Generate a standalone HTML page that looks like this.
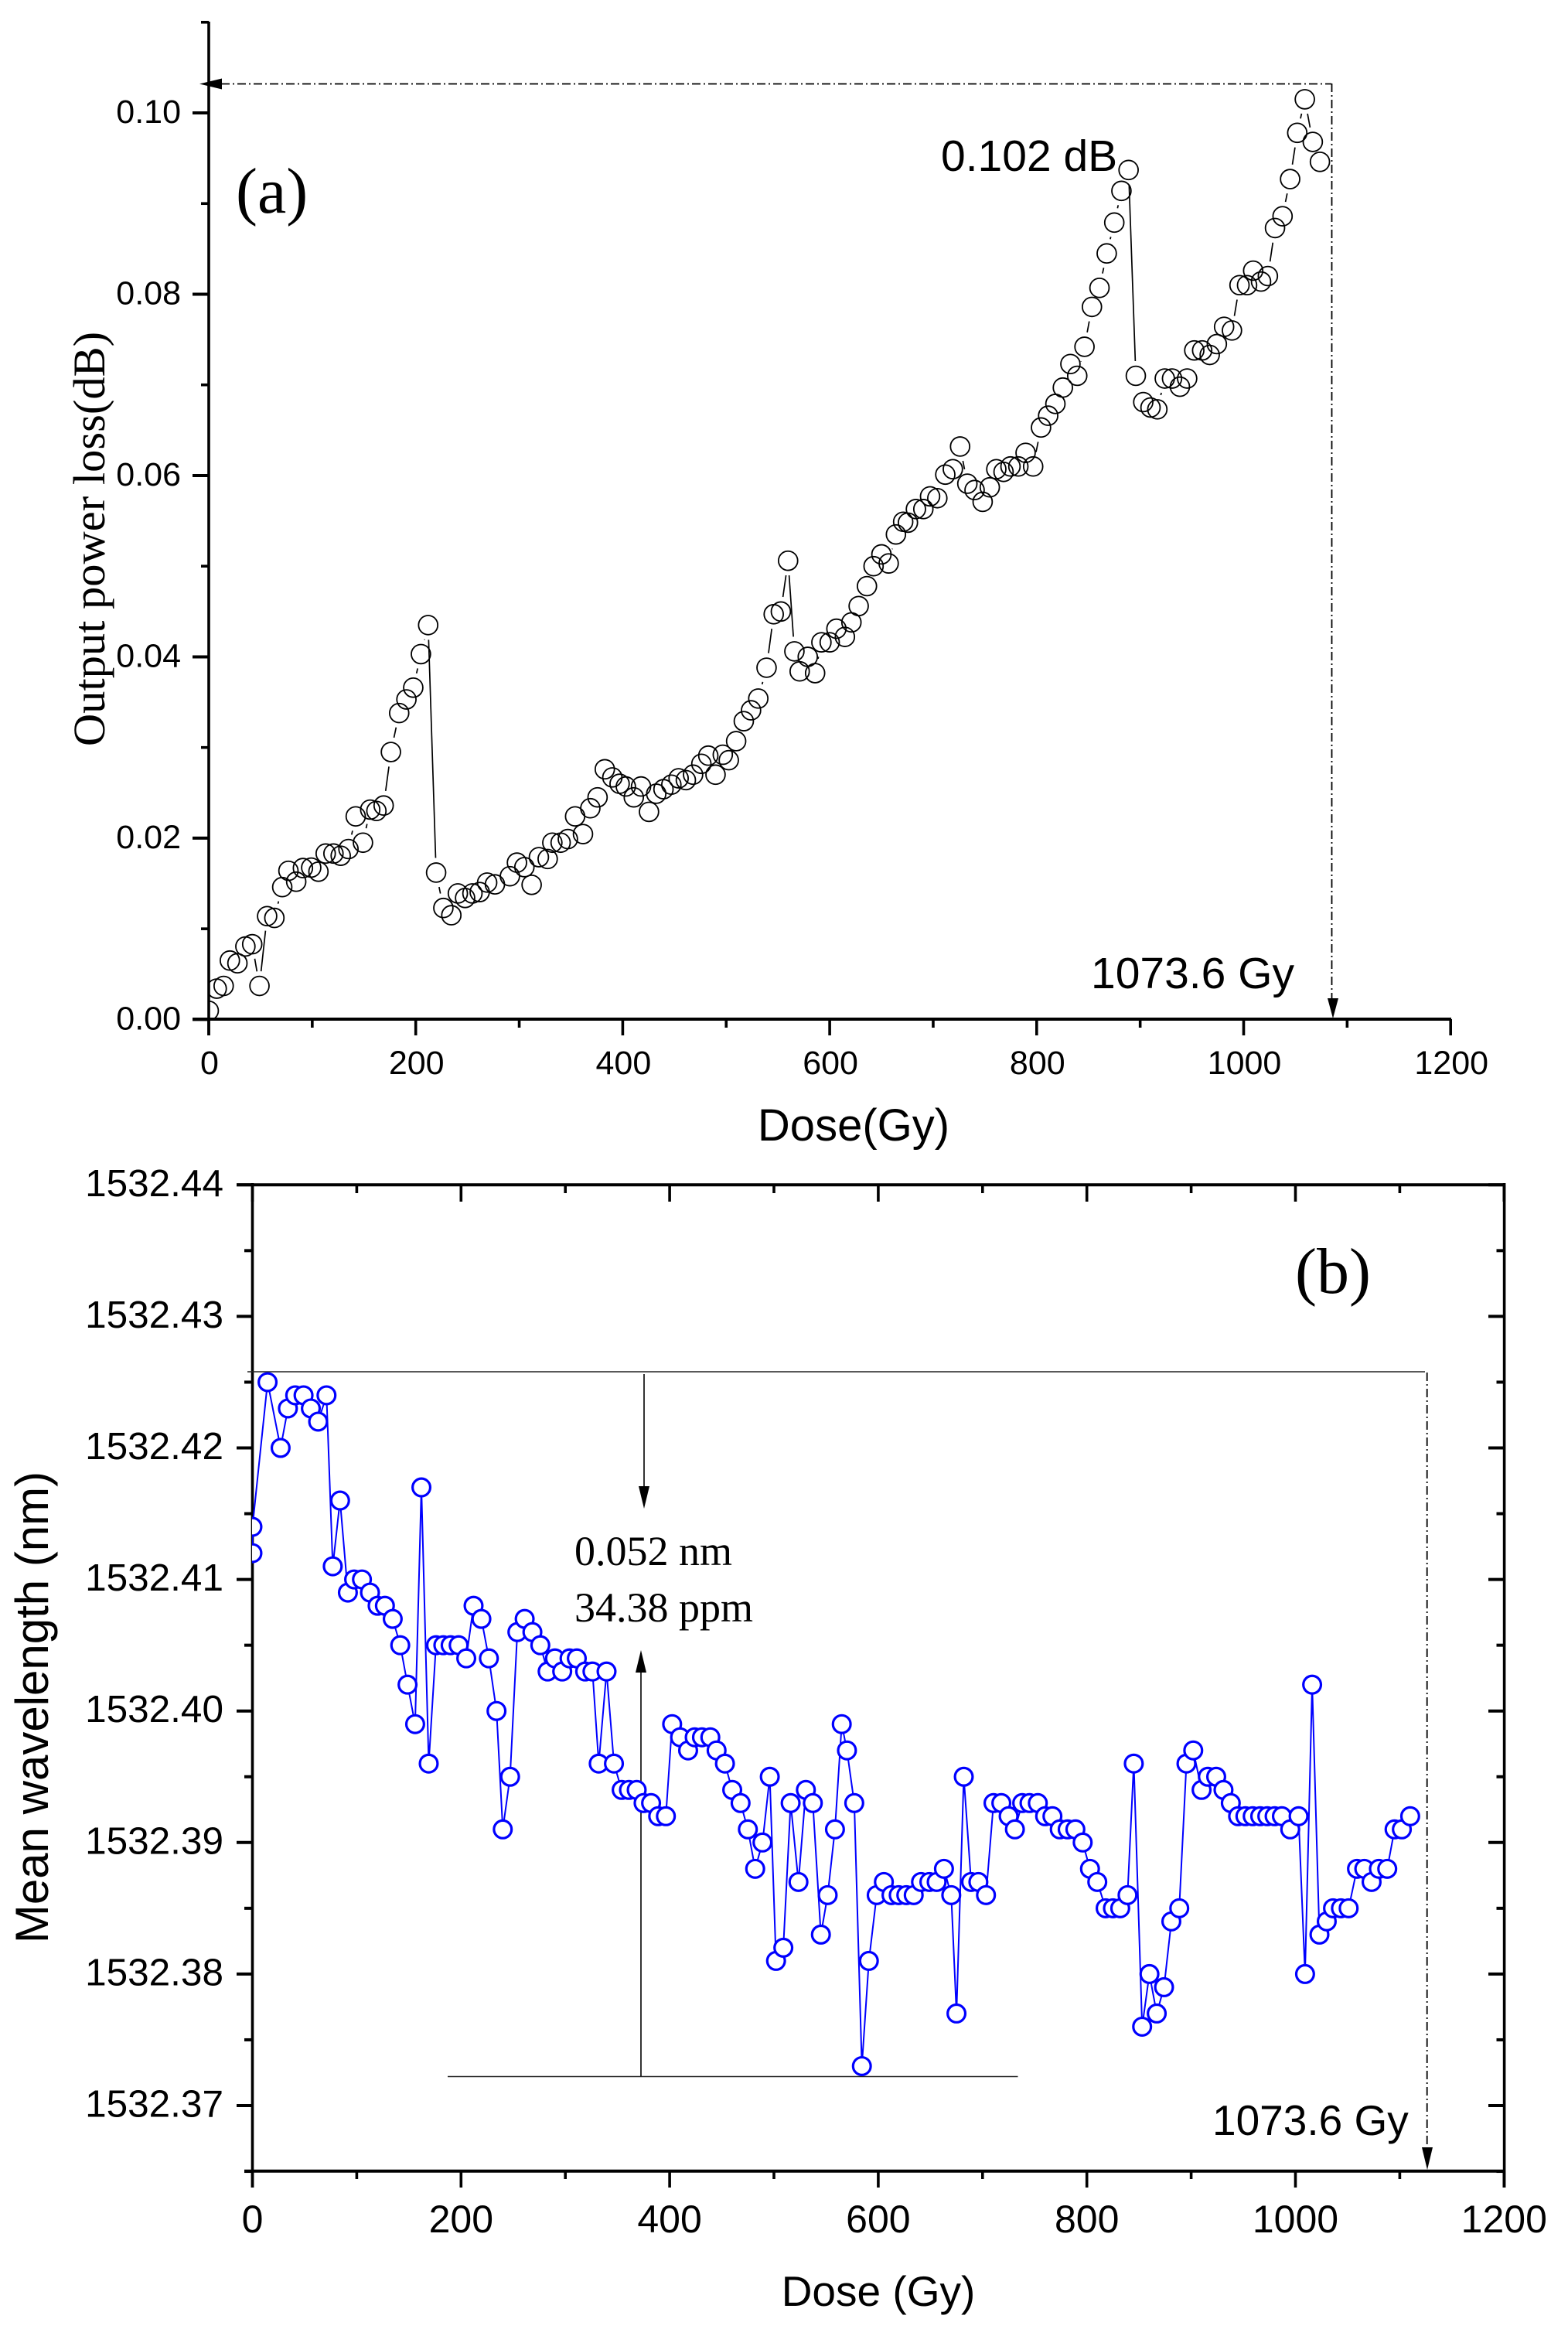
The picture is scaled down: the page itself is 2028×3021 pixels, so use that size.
<!DOCTYPE html>
<html lang="en">
<head>
<meta charset="utf-8">
<title>Output power loss and mean wavelength versus dose</title>
<style>
html,body{margin:0;padding:0;background:#fff;}
svg{display:block;}
.sans{font-family:"Liberation Sans",sans-serif;fill:#000;}
.serif{font-family:"Liberation Serif",serif;fill:#000;}
</style>
</head>
<body>
<svg id="figure" xmlns="http://www.w3.org/2000/svg" width="2028" height="3021" viewBox="0 0 2028 3021">
  <rect x="0" y="0" width="2028" height="3021" fill="#fff"/>
  <defs>
    <clipPath id="clip-a"><rect x="270" y="29" width="1607" height="1289"/></clipPath>
    <clipPath id="clip-b"><rect x="326" y="1532" width="1620" height="1276"/></clipPath>
  </defs>
  <g id="panel-a">
    <g id="a-axes"></g>
    <g id="a-series" clip-path="url(#clip-a)"></g>
    <text class="serif" x="305" y="275" font-size="84">(a)</text>
    <text class="serif" font-size="58.5" text-anchor="middle" transform="translate(135 697) rotate(-90)">Output power loss(dB)</text>
    <text class="sans" font-size="58" text-anchor="middle" x="1104" y="1475">Dose(Gy)</text>
    <text class="sans" font-size="57" x="1217" y="221">0.102 dB</text>
    <text class="sans" font-size="57" x="1411" y="1278">1073.6 Gy</text>
    <path d="M286 108.5H1722" fill="none" stroke="#000" stroke-width="1.8" stroke-dasharray="11 4 2 4"/>
    <polygon points="258,108.5 287,101.5 287,115.5" fill="#000"/>
    <path d="M1722.5 108V1291" fill="none" stroke="#000" stroke-width="1.8" stroke-dasharray="11 4 2 4"/>
    <polygon points="1724,1317 1717,1291 1731,1291" fill="#000"/>
  </g>
  <g id="panel-b">
    <g id="b-axes"></g>
    <path d="M320 1774H1843" fill="none" stroke="#222" stroke-width="1.6"/>
    <path d="M579 2685.5H1316.5" fill="none" stroke="#222" stroke-width="1.6"/>
    <path d="M833 1777V1925" fill="none" stroke="#000" stroke-width="1.6"/>
    <polygon points="833,1951 826,1922 840,1922" fill="#000"/>
    <path d="M829 2160V2685" fill="none" stroke="#000" stroke-width="1.6"/>
    <polygon points="829,2134 822,2163 836,2163" fill="#000"/>
    <path d="M1845.7 1775V2778" fill="none" stroke="#000" stroke-width="1.8" stroke-dasharray="11 4 2 4"/>
    <polygon points="1846,2806 1839,2777 1853,2777" fill="#000"/>
    <g id="b-series" clip-path="url(#clip-b)"></g>
    <text class="serif" x="1675" y="1672" font-size="84">(b)</text>
    <text class="serif" font-size="54" x="743" y="2024">0.052 nm</text>
    <text class="serif" font-size="54" x="743" y="2097">34.38 ppm</text>
    <text class="sans" font-size="55" x="1568" y="2761">1073.6 Gy</text>
    <text class="sans" font-size="60" text-anchor="middle" transform="translate(62 2208) rotate(-90)">Mean wavelength (nm)</text>
    <text class="sans" font-size="55" text-anchor="middle" x="1136" y="2982">Dose (Gy)</text>
  </g>
</svg>
<script>
const aDose = [0,7.7,14.4,20.4,27.7,35.4,42,49,56.4,63.4,71,77,84.5,91,99,106,113,120.5,127.5,135,142,149,156,162,169,176,184,191,197.6,205,212,219.7,226.7,234.4,240.7,247.7,254.8,261.8,269,276.5,291,297.8,305,312,319,
327.5,332,340,347,354,361.6,368.7,375.7,382.7,390,397,403,410.7,417.7,425.4,432.4,439.4,447,454,461,468,476,482.7,489.7,496.7,502.5,509.6,517,524,531,539,545.9,552.8,559.8,565.9,571,578.8,585.9,592,600,606.5,614.7,621,628,636,642.4,650,657,664,671,675.6,683.3,690.5,697,704,711.7,719,726,733,740,747.8,754.7,761,768,
774.7,782.3,789.3,796.6,804.2,811.1,818.1,825.3,832.6,839.2,846.2,853.4,860.7,867.7,875,881.9,888.8,895.8,903,910,916.6,923.8,930.8,938.4,945.4,952.3,959.9,967.2,974.1,981.1,988.7,996,1003.3,1009.2,1016.8,1023.4,1030.3,1037.6,1044.9,1051.8,1059.1,1066.8,1073.7];
const aLoss = [0.00096,0.0034,0.0037,0.0065,0.0062,0.00805,0.0083,0.0037,0.0114,0.0112,0.0146,0.0164,0.0152,0.0167,0.01675,0.0163,0.0183,0.0183,0.01806,0.0188,0.0224,0.0195,0.02315,0.023,0.0236,0.0295,0.0338,0.0353,0.0366,0.0403,0.0435,0.0162,0.0123,0.0115,0.0139,0.0134,0.0139,0.01405,0.0151,0.0149,0.0158,0.0173,0.0168,0.01485,0.0179,
0.0177,0.0195,0.0195,0.0199,0.0224,0.02045,0.0233,0.0245,0.0276,0.0267,0.026,0.0257,0.0245,0.0257,0.0229,0.0249,0.0254,0.0259,0.0266,0.0264,0.027,0.0282,0.0291,0.027,0.0292,0.0286,0.0307,0.0329,0.0341,0.0354,0.0388,0.0447,0.045,0.0506,0.0406,0.0384,0.04,0.0382,0.0416,0.0416,0.0431,0.0422,0.0438,0.0456,0.0478,0.05,0.0513,0.0503,0.0535,0.0549,0.0548,0.0563,0.0563,0.0577,0.0575,0.0601,0.0607,0.0632,0.0591,0.0584,0.0571,0.0587,0.0607,0.0604,
0.061,0.061,0.0625,0.061,0.0653,0.0666,0.0679,0.0697,0.0723,0.071,0.0742,0.0786,0.0807,0.0845,0.0879,0.0914,0.0937,0.071,0.0681,0.0675,0.0673,0.0707,0.0707,0.0698,0.0707,0.0738,0.0738,0.0733,0.0745,0.0764,0.076,0.081,0.081,0.0826,0.0814,0.082,0.0873,0.0886,0.0927,0.0978,0.1015,0.0968,0.0946];
const bDose = [0,0,14.5,27,34,41,49,56,63,71,77,84,91.5,97.5,105,112.7,120,127,134.5,141.7,148.7,156,162,169,176,183,190,197.7,205,212,219.5,226.7,234,240,247,254,261,268.4,276,283,290,297,304,311,319,326,332,339.5,346.6,354,361,368.4,375,382.2,389,396.4,402.4,410,417.7,424,431,439,
445,453,460,468,475,482,489,496,502,509,516,523.5,530.6,537.3,545,551.5,558.5,565,570,577,584.3,591,598.5,605.4,612.7,619.6,626.9,634,641,649,656,663,670,675,682,689,696,703.3,710.5,718,725,731,738,745,753,760,767,774,781.6,789,796,803,810,818,825,832,839,845,853,860,867,874,881,888.6,895.5,902,910,916,924,931,938,945,952,959,966.2,973,980,987,995,1003,1009.2,1016,1023,1030,1036,1043.6,1051,1059,1066,1073,1080,1088,1095,1102,1110];
const bWavelength = [1532.412,1532.414,1532.425,1532.420,1532.423,1532.424,1532.424,1532.423,1532.422,1532.424,1532.411,1532.416,1532.409,1532.410,1532.410,1532.409,1532.408,1532.408,1532.407,1532.405,1532.402,1532.399,1532.417,1532.396,1532.405,1532.405,1532.405,1532.405,1532.404,1532.408,1532.407,1532.404,1532.400,1532.391,1532.395,1532.406,1532.407,1532.406,1532.405,1532.403,1532.404,1532.403,1532.404,1532.404,1532.403,1532.403,1532.396,1532.403,1532.396,1532.394,1532.394,1532.394,1532.393,1532.393,1532.392,1532.392,1532.399,1532.398,1532.397,1532.398,1532.398,1532.398,
1532.397,1532.396,1532.394,1532.393,1532.391,1532.388,1532.390,1532.395,1532.381,1532.382,1532.393,1532.387,1532.394,1532.393,1532.383,1532.386,1532.391,1532.399,1532.397,1532.393,1532.373,1532.381,1532.386,1532.387,1532.386,1532.386,1532.386,1532.386,1532.387,1532.387,1532.387,1532.388,1532.386,1532.377,1532.395,1532.387,1532.387,1532.386,1532.393,1532.393,1532.392,1532.391,1532.393,1532.393,1532.393,1532.392,1532.392,1532.391,1532.391,1532.391,1532.390,1532.388,1532.387,1532.385,1532.385,1532.385,1532.386,1532.396,1532.376,1532.380,1532.377,1532.379,1532.384,1532.385,1532.396,1532.397,1532.394,1532.395,1532.395,1532.394,1532.393,1532.392,1532.392,1532.392,1532.392,1532.392,1532.392,1532.392,1532.391,1532.392,1532.380,1532.402,1532.383,1532.384,1532.385,1532.385,1532.385,1532.388,1532.388,1532.387,1532.388,1532.388,1532.391,1532.391,1532.392];

const aXMajor = [0,200,400,600,800,1000,1200];
const aXMinor = [100,300,500,700,900,1100];
const aYMajor = [0,0.02,0.04,0.06,0.08,0.10];
const aYMinor = [0.01,0.03,0.05,0.07,0.09,0.11];
const aYLabels = ['0.00','0.02','0.04','0.06','0.08','0.10'];
const bXMajor = [0,200,400,600,800,1000,1200];
const bXMinor = [100,300,500,700,900,1100];
const bYMajor = [1532.37,1532.38,1532.39,1532.40,1532.41,1532.42,1532.43,1532.44];
const bYMinor = [1532.365,1532.375,1532.385,1532.395,1532.405,1532.415,1532.425,1532.435];
const bYLabels = ['1532.37','1532.38','1532.39','1532.40','1532.41','1532.42','1532.43','1532.44'];

const NS = 'http://www.w3.org/2000/svg';
const xA = d => 270 + 1.3385 * d;
const yA = v => 1318.4 - 11724 * v;
const xB = d => 326.5 + 1.349 * d;
const yB = v => 2723 - 17010 * (v - 1532.37);

function make(tag, parent, attrs) {
  const el = document.createElementNS(NS, tag);
  for (const k in attrs) el.setAttribute(k, attrs[k]);
  parent.appendChild(el);
  return el;
}
function axisLine(parent, name, x1, y1, x2, y2, w) {
  const el = make('line', parent, {x1: x1, y1: y1, x2: x2, y2: y2, stroke: '#000', 'stroke-width': w});
  
  
}
function tickLabel(parent, name, x, y, size, anchor, str) {
  const el = make('text', parent, {x: x, y: y, 'font-size': size, 'text-anchor': anchor, class: 'sans'});
  
  
  el.textContent = str;
}

/* Panel (a) axes */
const gA = document.getElementById('a-axes');
axisLine(gA, 'a-y-axis-line', 270, 28, 270, 1339, 3.6);
axisLine(gA, 'a-x-axis-line', 249, 1318, 1877, 1318, 4);
aYMajor.forEach((v, i) => {
  axisLine(gA, 'a-y-major-tick', 249, yA(v), 270, yA(v), 4);
  tickLabel(gA, 'a-y-tick-label', 234, yA(v) + 13, 43, 'end', aYLabels[i]);
});
aYMinor.forEach(v => axisLine(gA, 'a-y-minor-tick', 260, yA(v), 270, yA(v), 3.6));
aXMajor.forEach(d => {
  axisLine(gA, 'a-x-major-tick', xA(d), 1318, xA(d), 1339, 3.6);
  tickLabel(gA, 'a-x-tick-label', xA(d) + 1, 1389, 43, 'middle', String(d));
});
aXMinor.forEach(d => axisLine(gA, 'a-x-minor-tick', xA(d), 1318, xA(d), 1329, 3.6));

/* Panel (a) series: connecting segments stop short of each marker */
const sA = document.getElementById('a-series');
const GAP_A = 19;
for (let i = 0; i + 1 < aDose.length; i++) {
  const x1 = xA(aDose[i]), y1 = yA(aLoss[i]), x2 = xA(aDose[i + 1]), y2 = yA(aLoss[i + 1]);
  const len = Math.hypot(x2 - x1, y2 - y1);
  if (len <= 2 * GAP_A) continue;
  const ux = (x2 - x1) / len, uy = (y2 - y1) / len;
  const seg = make('line', sA, {x1: x1 + ux * GAP_A, y1: y1 + uy * GAP_A, x2: x2 - ux * GAP_A, y2: y2 - uy * GAP_A, stroke: '#000', 'stroke-width': 1.7});
  
  
}
aDose.forEach((d, i) => {
  const c = make('circle', sA, {cx: xA(d), cy: yA(aLoss[i]), r: 12.4, fill: 'none', stroke: '#000', 'stroke-width': 1.8});
  
  
});

/* Panel (b) axes */
const gB = document.getElementById('b-axes');
axisLine(gB, 'b-left-axis-line', 326.5, 1530, 326.5, 2829, 3.6);
axisLine(gB, 'b-right-axis-line', 1945.6, 1530, 1945.6, 2829, 3.6);
axisLine(gB, 'b-bottom-axis-line', 316, 2807.7, 1945.6, 2807.7, 4);
axisLine(gB, 'b-top-axis-line', 306, 1532.3, 1945.6, 1532.3, 4);
bYMajor.forEach((v, i) => {
  axisLine(gB, 'b-left-major-tick', 306, yB(v), 326.5, yB(v), 4);
  axisLine(gB, 'b-right-major-tick', 1925, yB(v), 1945.6, yB(v), 4);
  tickLabel(gB, 'b-y-tick-label', 289, yB(v) + 14.5, 49.5, 'end', bYLabels[i]);
});
bYMinor.forEach(v => {
  axisLine(gB, 'b-left-minor-tick', 316, yB(v), 326.5, yB(v), 4);
  axisLine(gB, 'b-right-minor-tick', 1935.5, yB(v), 1945.6, yB(v), 4);
});
bXMajor.forEach(d => {
  axisLine(gB, 'b-bottom-major-tick', xB(d), 2807.7, xB(d), 2829, 3.6);
  axisLine(gB, 'b-top-major-tick', xB(d), 1532.3, xB(d), 1554, 3.6);
  tickLabel(gB, 'b-x-tick-label', xB(d), 2887, 50, 'middle', String(d));
});
bXMinor.forEach(d => {
  axisLine(gB, 'b-bottom-minor-tick', xB(d), 2807.7, xB(d), 2818, 3.6);
  axisLine(gB, 'b-top-minor-tick', xB(d), 1532.3, xB(d), 1543, 3.6);
});

/* Panel (b) series */
const sB = document.getElementById('b-series');
const bLine = make('polyline', sB, {
  points: bDose.map((d, i) => xB(d).toFixed(1) + ',' + yB(bWavelength[i]).toFixed(1)).join(' '),
  fill: 'none', stroke: '#0000ff', 'stroke-width': 2
});


bDose.forEach((d, i) => {
  const c = make('circle', sB, {cx: xB(d), cy: yB(bWavelength[i]), r: 11.4, fill: '#fff', stroke: '#0000ff', 'stroke-width': 3.2});
  
  
});
</script>
</body>
</html>
